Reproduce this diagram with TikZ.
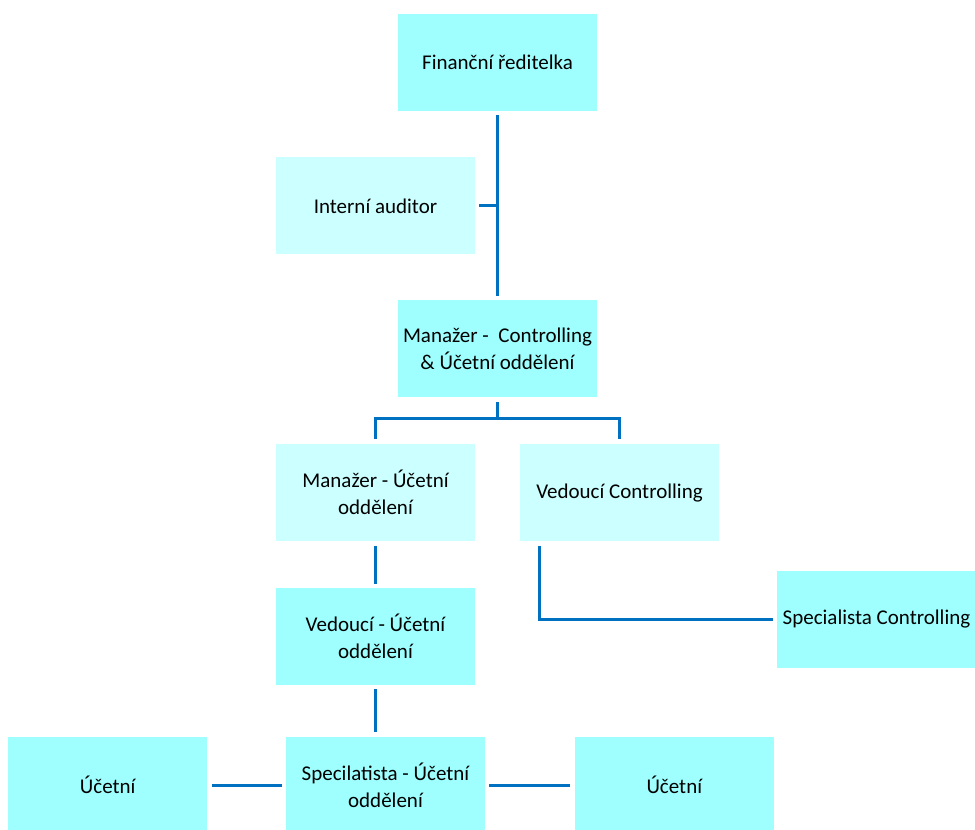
\documentclass[tikz,border=0pt]{standalone}
\usepackage{fontspec}
\setmainfont{Carlito}
\usetikzlibrary{positioning}
\definecolor{boxdark}{HTML}{9FFFFF}
\definecolor{boxlight}{HTML}{CCFFFF}
\definecolor{linkblue}{HTML}{0070C0}
\tikzset{
  box/.style={rectangle, minimum width=99.5pt, minimum height=48.5pt, inner sep=0pt,
    align=center, font=\fontsize{10.5}{13.5}\selectfont},
  darkbox/.style={box, fill=boxdark},
  lightbox/.style={box, fill=boxlight},
  conn/.style={draw=linkblue, line width=1.5pt, shorten <=2pt, shorten >=2pt}
}
\begin{document}
\begin{tikzpicture}[x=0.5pt, y=-0.5pt]
    \useasboundingbox (0,0) rectangle (975,830);
    \node[darkbox] (fin) at (497.5,62) {Finanční ředitelka};
    \node[lightbox] (audit) [below=23pt of fin, xshift=-61pt] {Interní auditor};
    \node[darkbox] (mgrc) [below=94.5pt of fin] {Manažer -\ \ Controlling\\ \& Účetní oddělení};
    \node[lightbox] (mgru) [below=23pt of mgrc, xshift=-61pt] {Manažer - Účetní\\ oddělení};
    \node[lightbox] (vedc) [below=23pt of mgrc, xshift=61pt] {Vedoucí Controlling};
    \node[darkbox] (vedu) [below=23pt of mgru] {Vedoucí - Účetní\\ oddělení};
    \node[darkbox] (specc) [below=14.5pt of vedc, xshift=128.5pt] {Specialista Controlling};
    \node[darkbox] (specu) [below=25.5pt of vedu, xshift=5pt] {Specilatista - Účetní\\ oddělení};
    \node[darkbox] (ucl) [left=39pt of specu] {Účetní};
    \node[darkbox] (ucr) [right=44.5pt of specu] {Účetní};
    % joints
    \coordinate[below=10.5pt of mgrc] (bar);
    \coordinate[right=10pt of vedc.south west] (vedcout);
    % connectors
    \draw[conn] (fin) -- (mgrc);
    \draw[conn, shorten >=0pt] (audit.east) -- (audit.east -| fin.south);
    \draw[conn, shorten >=0pt] (mgrc) -- (bar);
    \draw[conn, shorten <=0pt, shorten >=2.5pt] (bar) -| (mgru.north);
    \draw[conn, shorten <=0pt, shorten >=2.5pt] (bar) -| (vedc.north);
    \draw[conn] (mgru) -- (vedu);
    \draw[conn] (vedcout) |- (specc.west);
    \draw[conn] (vedu.south) -- (vedu.south |- specu.north);
    \draw[conn] (specu.west) -- (ucl.east);
    \draw[conn] (specu.east) -- (ucr.west);
\end{tikzpicture}
\end{document}
